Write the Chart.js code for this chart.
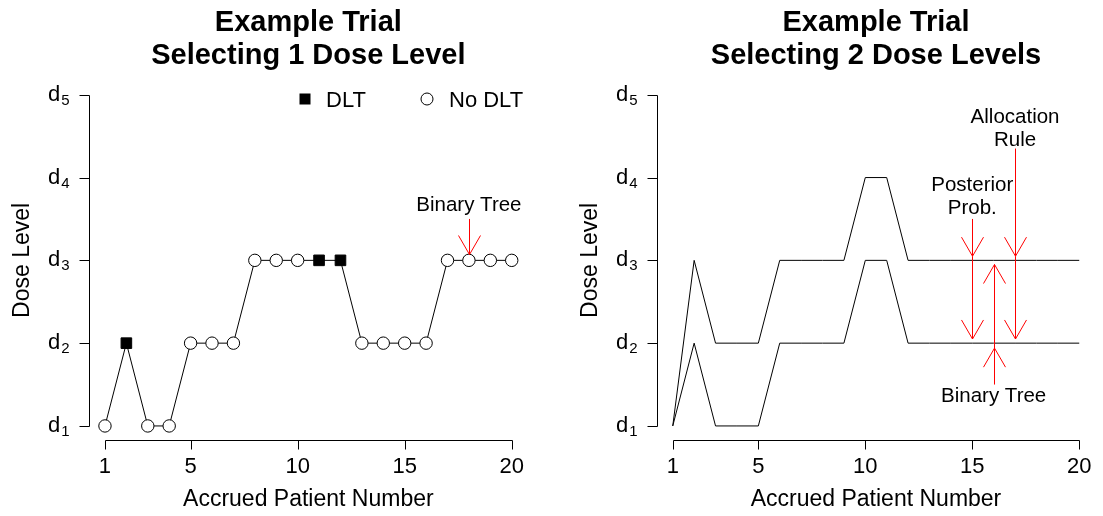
<!DOCTYPE html>
<html>
<head>
<meta charset="utf-8">
<script src="https://cdn.jsdelivr.net/npm/chart.js@4.4.1/dist/chart.umd.min.js"></script>
<style>
html, body { margin: 0; padding: 0; background: #fff; }
#wrap { position: relative; width: 1103px; height: 516px; }
canvas { position: absolute; top: 0; }
</style>
</head>
<body>
<div id="wrap">
  <canvas id="chart1" width="551" height="516" style="left:0px"></canvas>
  <canvas id="chart2" width="552" height="516" style="left:551px"></canvas>
</div>
<script>
// data
const patients = [1, 2, 3, 4, 5, 6, 7, 8, 9, 10, 11, 12, 13, 14, 15, 16, 17, 18, 19, 20];
const doseOne = [1, 2, 1, 1, 2, 2, 2, 3, 3, 3, 3, 3, 2, 2, 2, 2, 3, 3, 3, 3];
const dltOne = [0, 1, 0, 0, 0, 0, 0, 0, 0, 0, 1, 1, 0, 0, 0, 0, 0, 0, 0, 0];
const doseTwoUpper = [1, 3, 2, 2, 2, 3, 3, 3, 3, 4, 4, 3, 3, 3, 3, 3, 3, 3, 3, 3];
const doseTwoLower = [1, 2, 1, 1, 1, 2, 2, 2, 2, 3, 3, 2, 2, 2, 2, 2, 2, 2, 2, 2];
const doseTicks = [1, 2, 3, 4, 5];
const doseSubs = ['1', '2', '3', '4', '5'];
const patientTicks = [1, 5, 10, 15, 20];

// arrows in data units: [patient, from dose, to dose]
const arrowsOne = [[18, 3.5, 3.07]];
const arrowsTwo = [[15, 3.5, 3.05], [15, 3.05, 2.05], [17, 4.35, 3.05], [17, 3.05, 2.05], [16, 1.5, 1.94], [16, 1.94, 2.95]];
// notes: [patient, dose, text]
const notesOne = [[18, 3.66, 'Binary Tree']];
const notesTwo = [[17, 4.73, 'Allocation'], [17, 4.45, 'Rule'], [15, 3.9, 'Posterior'], [15, 3.63, 'Prob.'], [16, 1.36, 'Binary Tree']];

const FONT = '"Liberation Sans", Arial, sans-serif';

function arrow(ctx, x, y0, y1) {
  const len = 22, ang = Math.PI / 6;
  const dir = y1 > y0 ? -1 : 1;
  ctx.beginPath();
  ctx.moveTo(x, y0); ctx.lineTo(x, y1);
  ctx.moveTo(x - len * Math.sin(ang), y1 + dir * len * Math.cos(ang));
  ctx.lineTo(x, y1);
  ctx.lineTo(x + len * Math.sin(ang), y1 + dir * len * Math.cos(ang));
  ctx.stroke();
}

const rStyle = {
  id: 'rStyle',
  afterDraw(chart, args, o) {
    const {ctx, chartArea: a} = chart;
    const x = chart.scales.x, y = chart.scales.y;
    const cx = (a.left + a.right) / 2;
    ctx.save();
    ctx.strokeStyle = '#000'; ctx.fillStyle = '#000'; ctx.lineWidth = 1;

    // title
    ctx.font = 'bold 29px ' + FONT;
    ctx.textAlign = 'center'; ctx.textBaseline = 'alphabetic';
    ctx.fillText(o.title[0], cx, 31);
    ctx.fillText(o.title[1], cx, 64);

    // y axis
    const ax = Math.round(a.left) + 0.5;
    ctx.beginPath();
    ctx.moveTo(ax, Math.round(y.getPixelForValue(doseTicks[0])) + 0.5);
    ctx.lineTo(ax, Math.round(y.getPixelForValue(doseTicks[doseTicks.length - 1])) + 0.5);
    doseTicks.forEach(v => {
      const py = Math.round(y.getPixelForValue(v)) + 0.5;
      ctx.moveTo(ax, py); ctx.lineTo(ax - 10, py);
    });
    ctx.stroke();
    doseTicks.forEach((v, i) => {
      const py = y.getPixelForValue(v);
      ctx.font = '15px ' + FONT;
      const sw = ctx.measureText(doseSubs[i]).width;
      ctx.textAlign = 'left';
      ctx.fillText(doseSubs[i], ax - 20 - sw, py + 10);
      ctx.font = '22px ' + FONT;
      const dw = ctx.measureText('d').width;
      ctx.fillText('d', ax - 21 - sw - dw, py + 6);
    });

    // x axis
    const ay = Math.round(a.bottom) + 1.5;
    ctx.beginPath();
    ctx.moveTo(Math.round(x.getPixelForValue(patientTicks[0])) + 0.5, ay);
    ctx.lineTo(Math.round(x.getPixelForValue(patientTicks[patientTicks.length - 1])) + 0.5, ay);
    patientTicks.forEach(v => {
      const px = Math.round(x.getPixelForValue(v)) + 0.5;
      ctx.moveTo(px, ay); ctx.lineTo(px, ay + 9);
    });
    ctx.stroke();
    ctx.font = '22px ' + FONT;
    ctx.textAlign = 'center';
    patientTicks.forEach(v => ctx.fillText(String(v), x.getPixelForValue(v), 473));

    // axis titles
    ctx.font = '23px ' + FONT;
    ctx.fillText('Accrued Patient Number', cx, 506);
    ctx.save();
    ctx.translate(a.left - 60, (a.top + a.bottom) / 2);
    ctx.rotate(-Math.PI / 2);
    ctx.fillText('Dose Level', 0, 0);
    ctx.restore();

    // legend
    if (o.legend) {
      const L = o.legend;
      ctx.fillRect(L.sq[0] - 5.5, L.sq[1] - 5.5, 11, 11);
      ctx.beginPath();
      ctx.arc(L.ci[0], L.ci[1], 6, 0, Math.PI * 2);
      ctx.stroke();
      ctx.font = '22px ' + FONT;
      ctx.textAlign = 'left';
      ctx.fillText('DLT', L.sq[0] + 21, L.sq[1] + 8);
      ctx.fillText('No DLT', L.ci[0] + 22, L.ci[1] + 8);
    }

    // annotations
    ctx.strokeStyle = '#ff0000';
    o.arrows.forEach(r => {
      arrow(ctx, Math.round(x.getPixelForValue(r[0])) + 0.5, y.getPixelForValue(r[1]), y.getPixelForValue(r[2]));
    });
    ctx.font = '20.5px ' + FONT;
    ctx.textAlign = 'center'; ctx.textBaseline = 'middle';
    ctx.fillStyle = '#000';
    o.notes.forEach(n => ctx.fillText(n[2], x.getPixelForValue(n[0]), y.getPixelForValue(n[1])));
    ctx.restore();
  }
};

function baseOptions(pad, extra) {
  return {
    responsive: false,
    animation: false,
    layout: { padding: pad },
    scales: {
      x: { type: 'linear', min: 0.24, max: 20.76, display: false },
      y: { type: 'linear', min: 0.84, max: 5.16, display: false }
    },
    plugins: { legend: { display: false }, tooltip: { enabled: false }, rStyle: extra }
  };
}

const chart1 = document.getElementById('chart1');
new Chart(chart1, {
  type: 'line',
  data: {
    datasets: [{
      data: patients.map((p, i) => ({ x: p, y: doseOne[i] })),
      borderColor: '#000',
      borderWidth: 1,
      pointStyle: dltOne.map(d => d ? 'rect' : 'circle'),
      pointRadius: dltOne.map(d => d ? 7.5 : 6.2),
      pointBackgroundColor: dltOne.map(d => d ? '#000' : '#fff'),
      pointBorderColor: '#000',
      pointBorderWidth: 1,
      clip: false
    }]
  },
  options: baseOptions({ left: 88.7, right: 23, top: 81.5, bottom: 76.8 }, {
    title: ['Example Trial', 'Selecting 1 Dose Level'],
    legend: { sq: [305, 99], ci: [427, 99] },
    arrows: arrowsOne,
    notes: notesOne
  }),
  plugins: [rStyle]
});

const chart2 = document.getElementById('chart2');
new Chart(chart2, {
  type: 'line',
  data: {
    datasets: [{
      data: patients.map((p, i) => ({ x: p, y: doseTwoUpper[i] })),
      borderColor: '#000', borderWidth: 1, pointRadius: 0, clip: false
    }, {
      data: patients.map((p, i) => ({ x: p, y: doseTwoLower[i] })),
      borderColor: '#000', borderWidth: 1, pointRadius: 0, clip: false
    }]
  },
  options: baseOptions({ left: 105.5, right: 7.5, top: 81.5, bottom: 76.8 }, {
    title: ['Example Trial', 'Selecting 2 Dose Levels'],
    legend: null,
    arrows: arrowsTwo,
    notes: notesTwo
  }),
  plugins: [rStyle]
});
</script>
</body>
</html>
